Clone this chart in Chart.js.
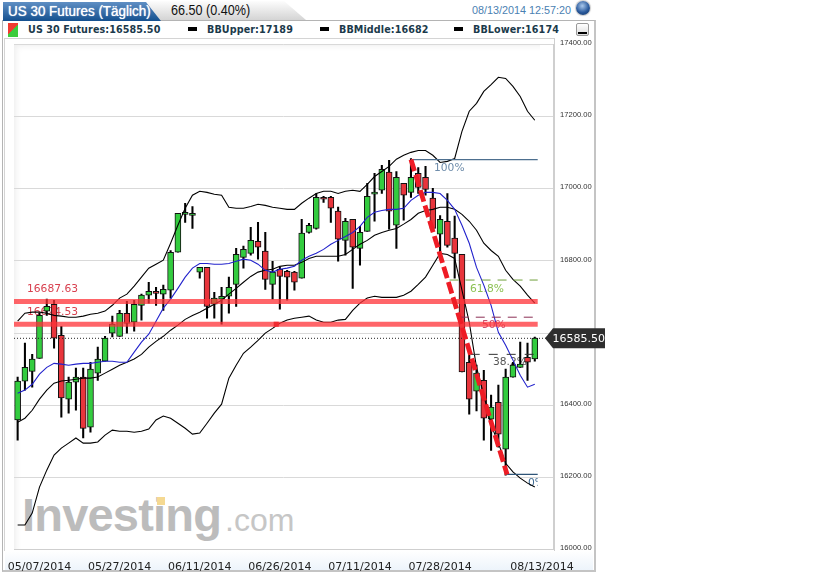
<!DOCTYPE html>
<html>
<head>
<meta charset="utf-8">
<title>US 30 Futures</title>
<script src="https://cdn.jsdelivr.net/npm/chart.js@4/dist/chart.umd.min.js"></script>
<style>
html, body { margin: 0; padding: 0; background: #fff; width: 840px; height: 574px; overflow: hidden; }
.abs { position: absolute; white-space: nowrap; }
#panel { left: 2px; top: 20px; width: 591px; height: 549px; border: 1px solid #b4b4b4; border-right: 2px solid #c4c4c4; border-bottom: 2px solid #c4c4c4; }
#frame { left: 4px; top: 38px; width: 549px; height: 512px; border-left: 1px solid #d4d4d4; border-top: 1px solid #d4d4d4; border-right: 1px solid #cfcfcf; }
#inner { left: 14px; top: 44px; width: 526px; height: 505px; box-shadow: inset 5px 5px 6px -3px #eeeeee; }
#strip { left: 5px; top: 551px; width: 588px; height: 19px; background: linear-gradient(#ffffff, #edf4fb); }
#tab1 { left: 3px; top: 2px; width: 158px; height: 19px; background: linear-gradient(#5f8fc4, #14508f); clip-path: polygon(0 0, 143px 0, 158px 100%, 0 100%); color: #fff; font: 14px "Liberation Sans"; line-height: 19px; overflow: hidden; text-shadow: 0 0 1px #fff; }
#tab1 span { display: inline-block; margin-left: 5px; transform: scaleX(0.96); transform-origin: left center; }
#tab2 { left: 146px; top: 0; width: 160px; height: 20px; background: linear-gradient(#ffffff, #d4d4d4); clip-path: polygon(0 1px, 138px 1px, 160px 100%, 14px 100%); }
#change { left: 171px; top: 1px; color: #111; font: 14px/19px "Liberation Sans"; transform: scaleX(0.9); transform-origin: left center; }
#stamp { left: 472px; top: 3px; color: #4a7fb2; font: 10.8px/15px "Liberation Sans"; }
#globe { left: 576px; top: 1px; width: 14px; height: 14px; border-radius: 50%; background: radial-gradient(circle at 45% 35%, #a9c8ec, #2a5a9c 55%, #10305e); box-shadow: 0 0 1px 1px #ccc; }
.leg { top: 23px; font: bold 9.6px/14px "DejaVu Sans"; color: #1b3a4b; letter-spacing: 0.1px; }
.dash { top: 27px; width: 9px; height: 4px; background: #000; }
#swatch { left: 8px; top: 23px; width: 10px; height: 14px; background: linear-gradient(135deg, #f03c30 50%, #3ccc3c 50%); }
#mini { left: 576px; top: 23px; width: 11px; height: 11px; border: 1px solid #999; border-radius: 2px; background: linear-gradient(#fff, #ddd); }
#mini div { position: absolute; left: 1px; bottom: 1px; width: 9px; height: 2px; background: #000; }
#wm1 { left: 22px; top: 485px; color: #bcbcbc; font: bold 47px/60px "Liberation Sans"; letter-spacing: -0.8px; }
#wm2 { left: 225px; top: 495px; color: #c6c6c6; font: 32px/50px "Liberation Sans"; }
#wmDot { left: 157px; top: 497px; width: 8px; height: 8px; background: #f5d992; }
canvas { position: absolute; left: 0; top: 0; }
</style>
</head>
<body>
<div id="panel" class="abs"></div>
<div id="frame" class="abs"></div>
<div id="inner" class="abs"></div>
<div id="strip" class="abs"></div>
<div id="tab2" class="abs"></div>
<div id="tab1" class="abs"><span>US 30 Futures (Täglich)</span></div>
<div id="change" class="abs">66.50 (0.40%)</div>
<div id="stamp" class="abs">08/13/2014 12:57:20</div>
<div id="globe" class="abs"></div>
<div id="swatch" class="abs"></div>
<div class="abs leg" style="left:28px">US 30 Futures:16585.50</div>
<div class="abs dash" style="left:188px"></div>
<div class="abs leg" style="left:207px">BBUpper:17189</div>
<div class="abs dash" style="left:320px"></div>
<div class="abs leg" style="left:339px">BBMiddle:16682</div>
<div class="abs dash" style="left:454px"></div>
<div class="abs leg" style="left:473px">BBLower:16174</div>
<div id="mini" class="abs"><div></div></div>
<div id="wm1" class="abs">Investing</div>
<div id="wm2" class="abs">.com</div>
<div id="wmDot" class="abs"></div>
<canvas id="chart" width="840" height="574"></canvas>

<script>
// daily candles
const open = [16359,16467,16494,16530,16661,16680,16594,16417,16464,16478,16339,16489,16522,16600,16591,16655,16630,16677,16705,16713,16708,16719,16824,16929,16926,16769,16782,16680,16694,16702,16735,16810,16821,16854,16827,16735,16777,16771,16769,16752,16879,16890,16976,16976,16938,16857,16915,16835,16882,16985,16996,17046,16899,17015,16990,17043,17032,16974,16874,16910,16863,16818,16519,16439,16469,16361,16408,16278,16478,16505,16533,16528];
const high = [16478,16572,16541,16655,16694,16691,16619,16478,16503,16503,16519,16561,16591,16647,16663,16688,16691,16708,16741,16727,16733,16829,16932,16960,16951,16782,16782,16713,16727,16755,16835,16841,16893,16907,16879,16799,16782,16774,16771,16915,16904,16987,16979,16979,16949,16918,16915,16896,17015,17043,17065,17079,17048,17015,17084,17059,17062,17001,16926,16987,16924,16818,16552,16511,16497,16428,16456,16500,16519,16575,16572,16589];
const low = [16303,16442,16450,16530,16649,16558,16367,16378,16386,16309,16325,16469,16522,16589,16591,16600,16605,16636,16683,16677,16663,16697,16824,16907,16890,16752,16641,16641,16625,16655,16674,16780,16816,16805,16721,16694,16666,16691,16719,16752,16877,16888,16962,16907,16799,16816,16724,16788,16882,16910,16987,16888,16835,16913,16976,16987,16982,16890,16824,16838,16752,16492,16375,16384,16303,16275,16284,16206,16478,16505,16469,16522];
const close = [16467,16505,16528,16649,16674,16586,16420,16464,16478,16336,16500,16528,16586,16625,16655,16627,16680,16705,16716,16710,16721,16824,16932,16932,16932,16782,16674,16697,16702,16727,16818,16832,16857,16838,16749,16769,16757,16755,16741,16877,16899,16976,16971,16946,16860,16910,16838,16879,16979,16987,17054,16938,17032,16982,17032,17004,16998,16890,16915,16843,16821,16492,16417,16489,16364,16395,16320,16478,16511,16514,16519,16586];

// bollinger bands and the blue average
const bbUpper = [16633,16655,16658,16658,16655,16649,16647,16644,16644,16647,16652,16655,16661,16677,16697,16708,16730,16755,16780,16791,16802,16849,16899,16946,16982,16993,16990,16985,16982,16949,16946,16946,16951,16957,16954,16949,16946,16943,16943,16960,16974,16987,16993,16993,16987,16993,16996,16993,17012,17034,17048,17062,17082,17093,17101,17106,17106,17093,17073,17076,17084,17159,17215,17237,17270,17289,17309,17306,17284,17256,17215,17190];
const bbMiddle = [16353,16364,16386,16417,16442,16461,16467,16469,16472,16475,16475,16478,16489,16500,16511,16519,16528,16541,16561,16577,16591,16608,16622,16638,16649,16658,16669,16680,16691,16708,16724,16741,16757,16769,16774,16777,16785,16788,16788,16796,16807,16813,16813,16813,16813,16818,16832,16846,16857,16871,16879,16885,16890,16902,16915,16932,16940,16943,16949,16949,16943,16929,16910,16885,16849,16829,16813,16774,16749,16730,16705,16683];
const bbLower = [16068,16068,16101,16173,16220,16262,16281,16295,16309,16295,16295,16298,16317,16331,16328,16328,16325,16328,16334,16359,16370,16364,16350,16336,16320,16323,16350,16378,16403,16475,16511,16544,16561,16580,16600,16613,16627,16636,16641,16644,16647,16636,16630,16630,16636,16638,16663,16683,16697,16702,16699,16699,16699,16705,16716,16735,16755,16788,16821,16818,16807,16719,16630,16505,16428,16345,16295,16239,16215,16198,16184,16173];
const blueAvg = [16433,16442,16458,16486,16505,16516,16514,16511,16514,16516,16516,16519,16522,16522,16519,16519,16547,16575,16597,16633,16669,16694,16724,16755,16780,16793,16793,16791,16791,16793,16799,16805,16802,16791,16774,16769,16777,16780,16785,16802,16813,16821,16832,16846,16857,16868,16879,16896,16921,16935,16940,16943,16943,16946,16968,16982,16990,16990,16987,16968,16943,16899,16849,16782,16733,16677,16602,16566,16525,16483,16450,16458];

// horizontal levels
const redLevels = [16687.63, 16624.53];
const lastPrice = 16585.50;
const fibLevels = [17081, 16747, 16644, 16541, 16208];
const fibNames = ['100%', '61.8%', '50%', '38.2%', '0%'];
const fibStartDay = [54, 59.3, 60.7, 62.2, 67.2];

// axis ticks
const dateLabels = ['05/07/2014', '05/27/2014', '06/11/2014', '06/26/2014', '07/11/2014', '07/28/2014', '08/13/2014'];
const dateTickDays = [3, 14, 25, 36, 47, 58, 72];
const priceTicks = [16000, 16200, 16400, 16600, 16800, 17000, 17200, 17400];

const GREEN = '#33cc3f';
const RED = '#e8353c';
const X_MIN = -0.5, X_MAX = 73.5, LINE_END = 71.4;

const days = open.map((_, i) => i);
const series = arr => arr.map((v, i) => ({ x: i, y: v }));
const hLine = (y, from, to) => [{ x: from, y: y }, { x: to, y: y }];

function lineSet(data, color, width, order, dash) {
    return {
        type: 'line', data: data, borderColor: color, borderWidth: width, borderDash: dash || [],
        pointRadius: 0, tension: 0, fill: false, order: order
    };
}

const datasets = [
    {
        type: 'bar', grouped: false, order: 20, barThickness: 1.4,
        data: days.map(i => ({ x: i, y: [low[i], high[i]] })),
        backgroundColor: '#000'
    },
    {
        type: 'bar', grouped: false, order: 19, barThickness: 6, minBarLength: 2,
        data: days.map(i => ({ x: i, y: [open[i], close[i]] })),
        backgroundColor: days.map(i => close[i] >= open[i] ? GREEN : RED),
        borderColor: '#111', borderWidth: 1, borderSkipped: false
    },
    lineSet(series(bbUpper), '#000', 1.1, 15),
    lineSet(series(bbMiddle), '#000', 1.1, 14),
    lineSet(series(bbLower), '#000', 1.1, 13),
    lineSet(series(blueAvg), '#2222cc', 1.1, 12),
    lineSet(hLine(lastPrice, X_MIN, X_MAX), '#222', 1, 11, [1, 2]),
    lineSet(hLine(fibLevels[0], fibStartDay[0], LINE_END), '#4d6f8f', 1.2, 10),
    lineSet(hLine(fibLevels[1], fibStartDay[1], LINE_END), '#6f9f3a', 1, 9, [9, 7]),
    lineSet(hLine(fibLevels[2], fibStartDay[2], LINE_END), '#8b2f55', 1, 8, [9, 7]),
    lineSet(hLine(fibLevels[3], fibStartDay[3], LINE_END), '#333', 1, 7, [9, 9]),
    lineSet(hLine(fibLevels[4], fibStartDay[4], LINE_END), '#2f5578', 1.2, 6),
    lineSet(hLine(redLevels[0], X_MIN, LINE_END), 'rgba(255,50,55,0.75)', 5, 5),
    lineSet(hLine(redLevels[1], X_MIN, LINE_END), 'rgba(255,50,55,0.75)', 5, 4),
    {
        type: 'line', order: 3, showLine: false,
        data: [{ x: 35.5, y: redLevels[1] }],
        pointStyle: 'rect', pointRadius: 3.6, pointBackgroundColor: '#f02a30', pointBorderWidth: 0
    },
    lineSet([{ x: fibStartDay[0], y: fibLevels[0] }, { x: fibStartDay[4], y: fibLevels[4] }], '#ee1c25', 4.8, 1, [12, 4])
];

// labels on the levels go under the candles, the price tag on top of everything
const levelText = {
    id: 'levelText',
    beforeDatasetsDraw(chart) {
        const { ctx, scales: { x, y } } = chart;
        ctx.save();
        ctx.textBaseline = 'middle';
        ctx.font = '10.7px "DejaVu Sans"';
        ctx.fillStyle = '#d8404f';
        redLevels.forEach(v => ctx.fillText(v.toFixed(2), 27, y.getPixelForValue(v) - 12));

        const spots = [[434, 9, '#6f8dab'], [470, 9, '#8cc152'], [482, 8, '#c8506e'], [493, 8, '#555'], [528, 9, '#3f6a92']];
        ctx.beginPath();
        ctx.rect(x.left, y.top, x.getPixelForValue(LINE_END) - x.left, y.bottom - y.top);
        ctx.clip();
        fibNames.forEach((name, i) => {
            ctx.fillStyle = spots[i][2];
            ctx.fillText(name, spots[i][0], y.getPixelForValue(fibLevels[i]) + spots[i][1]);
        });
        ctx.restore();
    },
    afterDraw(chart) {
        const { ctx, scales: { y } } = chart;
        const py = y.getPixelForValue(lastPrice);
        ctx.save();
        ctx.fillStyle = '#2e2e2e';
        ctx.beginPath();
        ctx.moveTo(545, py);
        ctx.lineTo(553, py - 10);
        ctx.lineTo(605, py - 10);
        ctx.lineTo(605, py + 10);
        ctx.lineTo(553, py + 10);
        ctx.closePath();
        ctx.fill();
        ctx.fillStyle = '#fff';
        ctx.font = '11px "DejaVu Sans"';
        ctx.textBaseline = 'middle';
        ctx.fillText(lastPrice.toFixed(2), 552.5, py + 0.5);
        ctx.restore();
    }
};

new Chart(document.getElementById('chart').getContext('2d'), {
    data: { datasets: datasets },
    plugins: [levelText],
    options: {
        responsive: false,
        animation: false,
        devicePixelRatio: 1,
        layout: { padding: { left: 14, right: 235, top: 44.5, bottom: 0 } },
        plugins: { legend: { display: false }, tooltip: { enabled: false } },
        scales: {
            x: {
                type: 'linear', min: X_MIN, max: X_MAX, offset: false,
                grid: { display: false, offset: false },
                border: { color: '#cfcfcf' },
                afterFit(scale) { scale.height = 24.5; },
                afterBuildTicks(scale) { scale.ticks = dateTickDays.map(v => ({ value: v })); },
                ticks: {
                    autoSkip: false, maxRotation: 0, padding: 3, color: '#222',
                    font: { family: 'DejaVu Sans', size: 11 },
                    callback: v => dateLabels[dateTickDays.indexOf(v)]
                }
            },
            y: {
                position: 'right', min: 16000, max: 17400,
                grid: { color: '#d9d9d9', drawTicks: false },
                border: { color: '#cfcfcf' },
                afterFit(scale) { scale.width = 52; },
                afterBuildTicks(scale) { scale.ticks = priceTicks.map(v => ({ value: v })); },
                ticks: {
                    padding: 7, labelOffset: -1.5, color: '#333',
                    font: { family: 'Liberation Sans', size: 7.6 },
                    callback: v => v.toFixed(2)
                }
            }
        }
    }
});
</script>
</body>
</html>
